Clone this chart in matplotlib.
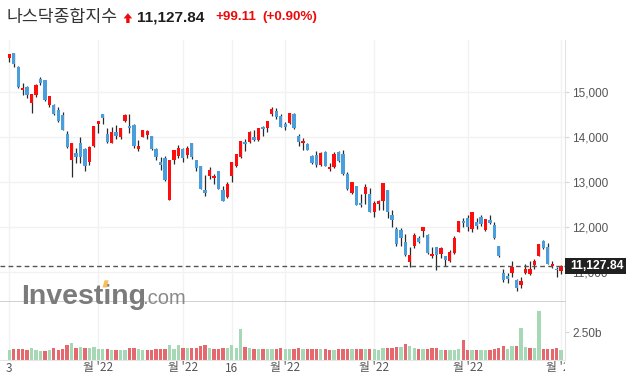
import matplotlib
matplotlib.use("Agg")
import matplotlib.pyplot as plt
from matplotlib.patches import Rectangle, Polygon
from matplotlib.transforms import Bbox, TransformedBbox, IdentityTransform, blended_transform_factory
import numpy as np

# ---------------- data ----------------
open_ = [15742, 15850, 15555, 15044, 15097, 14750, 14930, 15280, 15250, 14700,
         14700, 14590, 14475, 14050, 13480, 13630, 13870, 13720, 13440, 13800,
         14280, 14495, 14067, 13860, 14115, 13990, 14360, 14240, 14250, 13725,
         14000, 14030, 14007, 13735, 13430, 13525, 12590, 13490, 13570,
         13720, 13600, 13850, 13475, 13340, 12815, 13130, 13080, 13230, 12808,
         12667, 13120, 13356, 13540, 13892, 13890, 14000, 13920, 14210, 14190,
         14500, 14570, 14460,
         14280, 14300, 14495, 14007, 13852, 13830, 13565, 13585, 13371, 13650,
         13275, 13320, 13660, 13620, 13180, 12745, 12910, 12520, 12726, 12720,
         12335, 12500, 12575, 12815, 12255, 11940, 11920, 11655, 11215, 11565,
         11740, 11900, 11820, 11340, 11555, 11390, 11355, 11230, 11420, 11880,
         12120,
         12186, 11940, 12100, 12215, 11925, 12160, 12030, 11570, 10980, 10900,
         10970, 10810, 10705, 10970, 10950, 11148, 11350, 11674, 11541, 11134,
         11059, 11022]
high = [15845, 15855, 15580, 15190, 15130, 14950, 15165, 15320, 15265, 14910,
        14720, 14665, 14560, 14130, 13870, 13755, 13985, 13760, 13790, 14245,
        14350, 14510, 14200, 14215, 14250, 14200, 14497, 14510, 14290, 13925,
        14150, 14160, 14010, 13760, 13560, 13575, 13480, 13700, 13815,
        13760, 13790, 13855, 13490, 13350, 13160, 13320, 13180, 13245, 12905,
        12995, 13440, 13620, 13900, 13960, 14120, 14155, 14200, 14245, 14360,
        14650, 14630, 14500,
        14325, 14535, 14520, 14050, 13980, 13867, 13590, 13680, 13650, 13680,
        13420, 13660, 13690, 13700, 13225, 13004, 12915, 12720, 12955, 12870,
        12580, 12595, 12970, 12820, 12365, 11995, 11970, 11845, 11550, 11860,
        11790, 11985, 11840, 11560, 11560, 11560, 11360, 11490, 11790, 12135,
        12185,
        12252, 12316, 12190, 12255, 12180, 12255, 12110, 11580, 11067, 10970,
        11240, 10845, 10882, 11178, 11230, 11282, 11615, 11704, 11637, 11230,
        11104, 11160]
low = [15660, 15540, 15090, 14925, 14860, 14530, 14880, 15140, 14790, 14650,
       14480, 14330, 14140, 13750, 13094, 13415, 13415, 13240, 13380, 13780,
       14090, 14290, 13852, 13855, 13960, 13940, 14330, 14080, 13760, 13680,
       13990, 13960, 13700, 13490, 13260, 13020, 12587, 13390, 13520,
       13430, 13520, 13500, 13240, 12828, 12680, 13050, 12955, 12830, 12570,
       12630, 13000, 13320, 13525, 13680, 13870, 13910, 13910, 14015, 14110,
       14450, 14390, 14215,
       14150, 14290, 14170, 13800, 13700, 13700, 13400, 13325, 13355, 13340,
       13230, 13300, 13440, 13150, 12825, 12730, 12480, 12435, 12510, 12320,
       12220, 12365, 12365, 12200, 11995, 11570, 11575, 11345, 11108, 11525,
       11630, 11780, 11400, 11310, 11035, 11310, 11130, 11205, 11400, 11875,
       12000,
       11904, 11885, 11955, 12020, 11905, 12060, 11735, 11330, 10770, 10748,
       10880, 10570, 10637, 10955, 10925, 11067, 11340, 11504, 11163, 11089,
       10882, 10940]
close = [15833, 15623, 15100, 15081, 14936, 14943, 15153, 15188, 14807, 14894,
         14507, 14340, 14154, 13769, 13855, 13539, 13542, 13353, 13771, 14240,
         14346, 14418, 13879, 14098, 14016, 14194, 14490, 14186, 13791, 13791,
         14140, 14124, 13717, 13548, 13382, 13037, 13474, 13695, 13751,
         13532, 13752, 13538, 13313, 12830, 12750, 13255, 13130, 12843, 12581,
         12949, 13437, 13615, 13894, 13838, 14109, 13922, 14192, 14169, 14354,
         14620, 14443, 14221,
         14225, 14532, 14204, 13888, 13897, 13711, 13411, 13372, 13644, 13352,
         13332, 13619, 13454, 13175, 12839, 13004, 12491, 12489, 12872, 12335,
         12536, 12564, 12965, 12318, 12145, 11623, 11738, 11364, 11371, 11805,
         11663, 11984, 11418, 11389, 11380, 11535, 11264, 11435, 11741, 12131,
         12081,
         11995, 12317, 12013, 12061, 12175, 12086, 11754, 11341, 10809, 10829,
         11100, 10647, 10799, 11070, 11053, 11232, 11608, 11525, 11182, 11178,
         11029, 11127.84]
volume_b = [0.90, 1.00, 1.00, 1.00, 0.90, 1.05, 0.90, 0.80, 0.80, 0.90,
            1.05, 0.90, 1.00, 1.30, 1.55, 1.05, 1.15, 1.05, 1.05, 1.20,
            1.00, 1.00, 1.00, 0.90, 0.90, 0.90, 0.90, 1.10, 1.10, 1.00,
            0.90, 0.85, 0.90, 1.00, 1.00, 1.00, 1.35, 1.00, 1.30,
            1.10, 1.10, 1.05, 1.05, 1.25, 1.30, 1.05, 1.00, 1.00, 1.10,
            1.10, 1.35, 1.10, 2.85, 1.15, 1.05, 1.00, 0.95, 0.95, 0.95,
            1.00, 0.95, 1.05,
            1.00, 0.95, 1.00, 1.05, 0.95, 1.00, 0.95, 0.95, 0.95, 1.00,
            0.85, 0.90, 0.95, 0.95, 1.00, 1.00, 1.00, 0.95, 0.95, 1.00,
            1.00, 0.85, 1.05, 1.05, 1.05, 1.15, 1.15, 1.40, 1.25, 1.05,
            0.95, 0.95, 0.95, 1.05, 1.10, 0.90, 0.90, 0.90, 0.90, 0.95,
            1.80,
            0.90, 0.88, 0.85, 0.88, 0.88, 0.90, 1.00, 1.05, 1.25, 1.00,
            1.25, 1.25, 2.88, 1.14, 1.04, 1.04, 4.46, 0.98, 0.98, 0.98,
            1.10, 0.88]
prev_close_before_first = 15645

price_ticks = [11000, 12000, 13000, 14000, 15000]
price_tick_labels = ["11,000", "12,000", "13,000", "14,000", "15,000"]
vol_ticks = [2.5]
vol_tick_labels = ["2.50b"]
x_tick_pos = [0, 20, 39, 50, 62, 82, 103, 124]
x_tick_labels = ["3", "월 '22", "월 '22", "16", "월 '22", "월 '22", "월 '22", "월 '22"]

title_name = "나스닥종합지수"
last_price_text = "11,127.84"
change_text = "+99.11"
pct_text = "(+0.90%)"

# ---------------- styling ----------------
RED = "#ff0d0d"
BLUE = "#4a9edb"
WICK = "#2a2a2a"
VGREEN = "#a6d8b5"
VRED = "#e4686d"
GRID = "#f2f2f2"

W, H = 629, 388
fig = plt.figure(figsize=(W / 100, H / 100), dpi=100)
fig.patch.set_facecolor("white")


def fx(x):
    return x / W


def fy(y):
    return 1 - y / H


ax = fig.add_axes([0, fy(302), fx(565), (302 - 40) / H])
axv = fig.add_axes([0, fy(359.5), fx(565), (359.5 - 302) / H])

o = np.array(open_, float)
hi = np.array(high, float)
lo = np.array(low, float)
c = np.array(close, float)
v = np.array(volume_b, float)
idx = np.arange(len(c))

for a in (ax, axv):
    a.set_xlim(-2.09, 124.88)
    for s in ("top", "left"):
        a.spines[s].set_visible(False)
    a.spines["right"].set_color("#e3e3e3")
    a.set_xticks([])
    for xp in x_tick_pos:
        a.axvline(xp, color=GRID, lw=1, zorder=0)
    a.yaxis.tick_right()
    a.tick_params(axis="y", which="both", right=True, left=False, labelright=True,
                  labelleft=False, length=3, pad=2, labelsize=8.5,
                  labelcolor="#555555", color="#d6d6d6")

ax.set_ylim(10326.7, 16148.9)
ax.set_yticks(price_ticks)
ax.set_yticklabels(price_tick_labels, fontfamily="Liberation Sans")
for p in price_ticks:
    ax.axhline(p, color=GRID, lw=1, zorder=0)
ax.spines["bottom"].set_color("#c8c8c8")
ax.spines["bottom"].set_linewidth(1.2)

# candles
up = c >= o
ax.vlines(idx, lo, hi, color=WICK, lw=0.9, zorder=2)
body_bottom = np.minimum(o, c)
body_h = np.maximum(np.abs(c - o), 22)
ax.bar(idx, body_h, bottom=body_bottom, width=0.74,
       color=np.where(up, RED, BLUE), linewidth=0, zorder=3)

# last price dashed line
ax.axhline(c[-1], color="#555555", lw=1.0, ls=(0, (3.4, 2.4)), zorder=4)

# volume
prev = np.concatenate([[prev_close_before_first], c[:-1]])
vcol = np.where(c >= prev, VGREEN, VRED)
axv.set_ylim(0, 5.32)
axv.bar(idx, v, width=0.75, color=vcol, linewidth=0, zorder=2)
axv.set_yticks(vol_ticks)
axv.set_yticklabels(vol_tick_labels, fontfamily="Liberation Sans")
axv.spines["bottom"].set_color("#e6e6e6")

# x labels (manual so the last one can be clipped at the axis edge)
tr = blended_transform_factory(axv.transData, fig.transFigure)
clipbox = TransformedBbox(Bbox([[0, 0], [565, H]]), IdentityTransform())
for xp, lab in zip(x_tick_pos, x_tick_labels):
    t = fig.text(xp, fy(368), lab, transform=tr, ha="center", va="center",
                 fontsize=8.5, color="#555555",
                 fontfamily=["Noto Sans CJK KR", "DejaVu Sans"])
    t.set_clip_on(True)
    t.set_clip_box(clipbox)

# title
fig.text(fx(7), fy(17), title_name, fontsize=12.4, color="#333333",
         fontfamily=["Noto Sans CJK KR", "DejaVu Sans"], va="center", ha="left")
arrow = Polygon([(fx(126.2), fy(23)), (fx(126.2), fy(18.4)), (fx(123.6), fy(18.4)),
                 (fx(127.9), fy(13.2)), (fx(132.2), fy(18.4)), (fx(129.6), fy(18.4)),
                 (fx(129.6), fy(23))], closed=True, transform=fig.transFigure,
                facecolor="#ee0a0a", edgecolor="none")
fig.add_artist(arrow)
fig.text(fx(137), fy(17.3), last_price_text, fontsize=11.1, fontweight="bold",
         color="#1e1e1e", fontfamily="Liberation Sans", va="center", ha="left")
fig.text(fx(215), fy(17.3), change_text, fontsize=9.7, fontweight="bold",
         color="#ee0a0a", fontfamily="Liberation Sans", va="center", ha="left")
fig.text(fx(262), fy(17.3), pct_text, fontsize=9.7, fontweight="bold",
         color="#ee0a0a", fontfamily="Liberation Sans", va="center", ha="left")

# watermark
fig.text(fx(21.5), fy(303.5), "Investing", fontsize=20.5, fontweight="bold",
         color="#7b7b7b", fontfamily="Liberation Sans", va="baseline", ha="left",
         zorder=3)
fig.text(fx(142.5), fy(303.5), ".com", fontsize=14.5, color="#8a8a8a",
         fontfamily="Liberation Sans", va="baseline", ha="left", zorder=3)
dot = Polygon([(fx(102.5), fy(287.5)), (fx(104.5), fy(280.3)), (fx(108.6), fy(280.3)),
               (fx(106.8), fy(287.5))], closed=True, transform=fig.transFigure,
              facecolor="#f8bd5c", edgecolor="none", zorder=4)
fig.add_artist(dot)

# last price box (covers most of the 11,000 axis label, as in the reference)
box = Rectangle((fx(565), fy(273.5)), fx(61), 15.5 / H, transform=fig.transFigure,
                facecolor="#202020", edgecolor="none", zorder=5)
fig.add_artist(box)
fig.text(fx(570.5), fy(265.8), f"{c[-1]:,.2f}", fontsize=8.7, fontweight="bold",
         color="white", fontfamily="Liberation Sans", va="center", ha="left", zorder=6)

fig.savefig("out.png", dpi=100)
